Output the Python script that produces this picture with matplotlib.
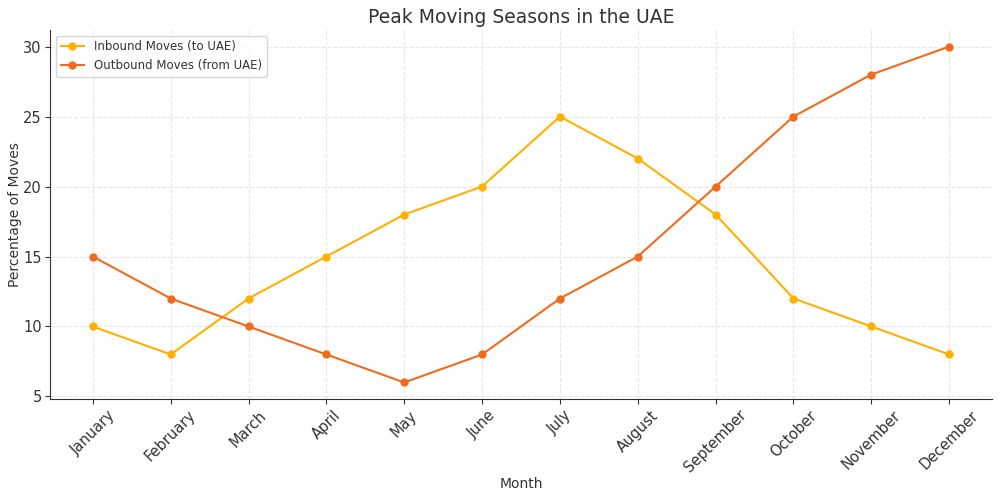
import matplotlib
matplotlib.use("Agg")
import matplotlib.pyplot as plt

months = ['January', 'February', 'March', 'April', 'May', 'June', 'July',
          'August', 'September', 'October', 'November', 'December']
inbound = [10, 8, 12, 15, 18, 20, 25, 22, 18, 12, 10, 8]
outbound = [15, 12, 10, 8, 6, 8, 12, 15, 20, 25, 28, 30]

plt.rcParams['font.family'] = 'DejaVu Sans'
fig, ax = plt.subplots(figsize=(10, 4.96), dpi=100)

ax.plot(months, inbound, marker='o', markersize=5, linewidth=1.5,
        color='#FFB000', label='Inbound Moves (to UAE)')
ax.plot(months, outbound, marker='o', markersize=5, linewidth=1.5,
        color='#F26B1D', label='Outbound Moves (from UAE)')

ax.set_title('Peak Moving Seasons in the UAE', fontsize=13.5, color='#333333', pad=5)
ax.set_xlabel('Month', fontsize=10, color='#333333', labelpad=1)
ax.set_ylabel('Percentage of Moves', fontsize=10, color='#333333', labelpad=1)
ax.grid(True, linestyle='--', color='#e6e6e6', linewidth=0.8)
ax.set_axisbelow(True)
for s in ['top', 'right']:
    ax.spines[s].set_visible(False)
ax.spines['left'].set_color('#333333')
ax.spines['bottom'].set_color('#333333')
ax.tick_params(colors='#333333', labelsize=10.5, pad=2.5)
plt.xticks(rotation=45)
ax.legend(loc='upper left', fontsize=8.5, labelcolor='#333333')

fig.subplots_adjust(left=0.05, right=0.992, top=0.94, bottom=0.195)
fig.savefig('out.png')
